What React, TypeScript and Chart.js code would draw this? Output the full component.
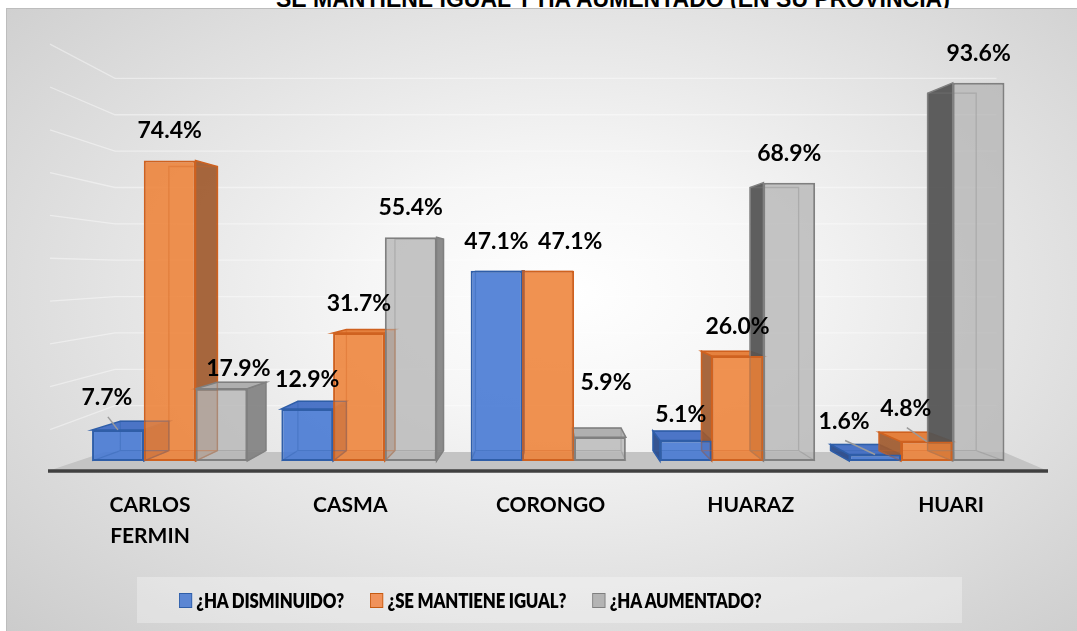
import React, { useEffect, useRef } from 'react';
import { Chart, registerables } from 'chart.js';

Chart.register(...registerables);

// ---------- data ----------
const categories = ['CARLOS FERMIN', 'CASMA', 'CORONGO', 'HUARAZ', 'HUARI'];
const tickLabels = [['CARLOS', 'FERMIN'], ['CASMA'], ['CORONGO'], ['HUARAZ'], ['HUARI']];
const seriesNames = ['¿HA DISMINUIDO?', '¿SE MANTIENE IGUAL?', '¿HA AUMENTADO?'];
const haDisminuido = [7.7, 12.9, 47.1, 5.1, 1.6];
const seMantieneIgual = [74.4, 31.7, 47.1, 26.0, 4.8];
const haAumentado = [17.9, 55.4, 5.9, 68.9, 93.6];
const titleText = 'SE MANTIENE IGUAL Y HA AUMENTADO (EN SU PROVINCIA)';

// ---------- styles ----------
const FRONT = ['rgba(72,122,212,0.9)', 'rgba(238,128,52,0.86)', 'rgba(182,182,182,0.8)'];
const BORDER = ['#2f5ea8', '#cf6220', '#808080'];
const SIDE_RIGHT = ['rgba(38,72,138,0.92)', 'rgba(160,90,46,0.92)', 'rgba(128,128,128,0.9)'];
const SIDE_LEFT = ['rgba(38,72,138,0.92)', 'rgba(160,90,46,0.92)', 'rgba(84,84,84,0.94)'];
const TOP = ['rgba(66,110,196,0.95)', 'rgba(228,122,52,0.95)', 'rgba(172,172,172,0.95)'];
const LEGEND_FILL = ['#5b86d3', '#f0925a', '#b4b4b4'];
const LEGEND_BORDER = ['#2f5ea8', '#c55a11', '#7f7f7f'];
const K_X = 0.062;
const K_Y = 0.055;
const VANISH_VALUE = 47;
const LABEL_GAP = 22;
const NUDGE: Record<string, { dx: number; dy: number; leader?: boolean }> = {
  '0-0': { dx: -11, dy: -3, leader: true },
  '2-0': { dx: 17, dy: 9 },
  '1-2': { dx: 22, dy: 0 },
  '2-2': { dx: 6, dy: -25 },
  '0-3': { dx: -5, dy: 4 },
  '0-4': { dx: -31, dy: -4, leader: true },
  '1-4': { dx: -21, dy: -4, leader: true },
};

function boxGeom(chart: any, bar: any) {
  const { chartArea: a, scales } = chart;
  const vx = (a.left + a.right) / 2;
  const vy = scales.y.getPixelForValue(VANISH_VALUE);
  const back = (px: number, py: number) => [px + K_X * (vx - px), py + K_Y * (vy - py)];
  const p = bar.getProps(['x', 'y', 'base', 'width'], true);
  const x0 = p.x - p.width / 2;
  const x1 = p.x + p.width / 2;
  const yt = p.y;
  const yb = p.base;
  return { x0, x1, yt, yb, b00: back(x0, yt), b10: back(x1, yt), b01: back(x0, yb), b11: back(x1, yb) };
}

const threeD = {
  id: 'threeD',
  beforeDatasetsDraw(chart: any) {
    const { ctx, chartArea: a, scales } = chart;
    const y = scales.y;
    const base = y.getPixelForValue(0);
    const vy = y.getPixelForValue(VANISH_VALUE);
    ctx.save();
    // wall grid lines
    ctx.strokeStyle = 'rgba(255,255,255,0.42)';
    ctx.lineWidth = 1.3;
    for (let v = 10; v <= 100; v += 10) {
      const yf = y.getPixelForValue(v);
      const yb = vy + (yf - vy) * 0.9;
      const ys = vy + (yf - vy) * 1.06;
      ctx.beginPath();
      ctx.moveTo(a.left - 25, ys);
      ctx.lineTo(a.left + 40, yb);
      ctx.lineTo(a.right - 25, yb);
      ctx.stroke();
    }
    // floor
    const fy = base + 10;
    const by = base - 9;
    ctx.fillStyle = '#c4c4c4';
    ctx.beginPath();
    ctx.moveTo(a.left - 27, fy);
    ctx.lineTo(a.right + 26.5, fy);
    ctx.lineTo(a.right - 18, by);
    ctx.lineTo(a.left + 30, by);
    ctx.closePath();
    ctx.fill();
    ctx.strokeStyle = '#404040';
    ctx.lineWidth = 3.5;
    ctx.beginPath();
    ctx.moveTo(a.left - 27, fy);
    ctx.lineTo(a.right + 26.5, fy);
    ctx.stroke();

    chart.data.datasets.forEach((ds: any, di: number) => {
      const meta = chart.getDatasetMeta(di);
      meta.data.forEach((bar: any) => {
        const { x0, x1, yt, yb, b00, b10, b01, b11 } = boxGeom(chart, bar);
        ctx.lineWidth = 1.5;
        ctx.strokeStyle = BORDER[di];
        ctx.beginPath();
        if (b10[0] > x1) {
          ctx.fillStyle = SIDE_RIGHT[di];
          ctx.moveTo(x1, yt); ctx.lineTo(b10[0], b10[1]); ctx.lineTo(b11[0], b11[1]); ctx.lineTo(x1, yb);
        } else {
          ctx.fillStyle = SIDE_LEFT[di];
          ctx.moveTo(x0, yt); ctx.lineTo(b00[0], b00[1]); ctx.lineTo(b01[0], b01[1]); ctx.lineTo(x0, yb);
        }
        ctx.closePath();
        ctx.fill();
        ctx.stroke();
        if (b00[1] < yt) {
          ctx.fillStyle = TOP[di];
          ctx.beginPath();
          ctx.moveTo(x0, yt); ctx.lineTo(x1, yt); ctx.lineTo(b10[0], b10[1]); ctx.lineTo(b00[0], b00[1]);
          ctx.closePath();
          ctx.fill();
          ctx.stroke();
        }
      });
    });
    ctx.restore();
  },
  afterDatasetsDraw(chart: any) {
    const { ctx } = chart;
    ctx.save();
    // faint back edges seen through the translucent fronts
    chart.data.datasets.forEach((ds: any, di: number) => {
      const meta = chart.getDatasetMeta(di);
      meta.data.forEach((bar: any) => {
        const { x0, x1, yb, b00, b10, b01, b11 } = boxGeom(chart, bar);
        ctx.strokeStyle = BORDER[di];
        ctx.globalAlpha = 0.35;
        ctx.lineWidth = 1.3;
        ctx.beginPath();
        ctx.moveTo(b00[0], b00[1]); ctx.lineTo(b10[0], b10[1]); ctx.lineTo(b11[0], b11[1]);
        ctx.lineTo(b01[0], b01[1]); ctx.closePath();
        ctx.moveTo(x0, yb); ctx.lineTo(b01[0], b01[1]);
        ctx.moveTo(x1, yb); ctx.lineTo(b11[0], b11[1]);
        ctx.stroke();
        ctx.globalAlpha = 1;
      });
    });
    // data labels
    ctx.font = 'bold 23px Lato';
    ctx.textAlign = 'center';
    ctx.textBaseline = 'alphabetic';
    chart.data.datasets.forEach((ds: any, di: number) => {
      const meta = chart.getDatasetMeta(di);
      meta.data.forEach((bar: any, i: number) => {
        const p = bar.getProps(['x', 'y'], true);
        const n = NUDGE[`${di}-${i}`] || { dx: 0, dy: 0 };
        const lx = p.x + n.dx;
        const ly = p.y - LABEL_GAP + n.dy;
        if (n.leader) {
          ctx.strokeStyle = '#9a9a9a';
          ctx.lineWidth = 1.5;
          ctx.beginPath();
          ctx.moveTo(lx + 1, ly + 12);
          ctx.lineTo(p.x, p.y);
          ctx.stroke();
        }
        ctx.fillStyle = '#000';
        ctx.fillText(Number(ds.data[i]).toFixed(1) + '%', lx, ly);
      });
    });
    ctx.restore();
  },
};

const LABEL_AXIS_MIN = -0.3745;
const LABEL_AXIS_MAX = 4.352;

export default function App() {
  const ref = useRef<HTMLCanvasElement | null>(null);
  useEffect(() => {
    if (!ref.current) return;
    const series = [haDisminuido, seMantieneIgual, haAumentado];
    const chart = new Chart(ref.current, {
      type: 'bar',
      data: {
        labels: categories,
        datasets: series.map((d, i) => ({
          label: seriesNames[i],
          data: d,
          xAxisID: 'x',
          yAxisID: 'y',
          backgroundColor: FRONT[i],
          borderColor: BORDER[i],
          borderWidth: 2,
          borderSkipped: false,
          categoryPercentage: 0.82,
          barPercentage: 1.0,
        })),
      },
      options: {
        responsive: false,
        animation: false,
        layout: { padding: { left: 68, right: 55.5, top: 48, bottom: 70 } },
        plugins: { legend: { display: false }, tooltip: { enabled: false }, title: { display: false } },
        scales: {
          x: { type: 'category', display: false },
          x2: {
            type: 'linear',
            position: 'bottom',
            offset: false,
            bounds: 'data',
            min: LABEL_AXIS_MIN,
            max: LABEL_AXIS_MAX,
            grid: { display: false, drawTicks: false, offset: false },
            border: { display: false },
            afterBuildTicks: (s: any) => {
              s.ticks = categories.map((_, i) => ({ value: i }));
            },
            afterFit: (s: any) => {
              s.height = 100;
            },
            ticks: {
              autoSkip: false,
              maxRotation: 0,
              minRotation: 0,
              padding: 29,
              color: '#000',
              font: { family: 'Lato', weight: 'bold', size: 21, lineHeight: 1.48 },
              callback: (v: any) => tickLabels[Math.round(v)] ?? '',
            },
          },
          y: { display: false, min: 0, max: 100 },
        },
      } as any,
      plugins: [threeD],
    });
    return () => chart.destroy();
  }, []);

  return (
    <div style={{ position: 'absolute', left: 0, top: 0, width: 1077, height: 631, overflow: 'hidden', background: '#fff' }}>
      <div
        style={{
          position: 'absolute', left: 276, top: -14, whiteSpace: 'nowrap', lineHeight: 'normal',
          font: 'bold 23px "Liberation Sans", Arial, sans-serif', color: '#000',
        }}
      >
        {titleText}
      </div>
      <div
        style={{
          position: 'absolute', left: 6, top: 8, width: 1080, height: 630,
          border: '1px solid #bdbdbd',
          background: 'radial-gradient(ellipse farthest-corner at 52% 45%, #ffffff 0%, #f6f6f6 25%, #e2e2e2 60%, #cbcbcb 100%)',
        }}
      >
        <canvas ref={ref} width={1070} height={622} style={{ position: 'absolute', left: 0, top: 0, width: 1070, height: 622 }} />
        <div
          style={{
            position: 'absolute', left: 130, top: 568, width: 825, height: 46,
            background: 'rgba(255,255,255,0.3)',
          }}
        >
          <div
            style={{
              position: 'absolute', left: 42, top: 0, height: 46, display: 'flex', alignItems: 'center',
              gap: 32, whiteSpace: 'nowrap', transform: 'scaleX(0.82)', transformOrigin: 'left center',
              fontFamily: 'Lato, sans-serif', fontWeight: 800, fontSize: 20.5, letterSpacing: '-0.2px', color: '#000',
            }}
          >
            {seriesNames.map((n, i) => (
              <div key={n} style={{ display: 'flex', alignItems: 'center', gap: 5 }}>
                <span style={{ display: 'inline-block', width: 14, height: 13, background: LEGEND_FILL[i], border: `1.5px solid ${LEGEND_BORDER[i]}` }} />
                <span>{n}</span>
              </div>
            ))}
          </div>
        </div>
      </div>
    </div>
  );
}
